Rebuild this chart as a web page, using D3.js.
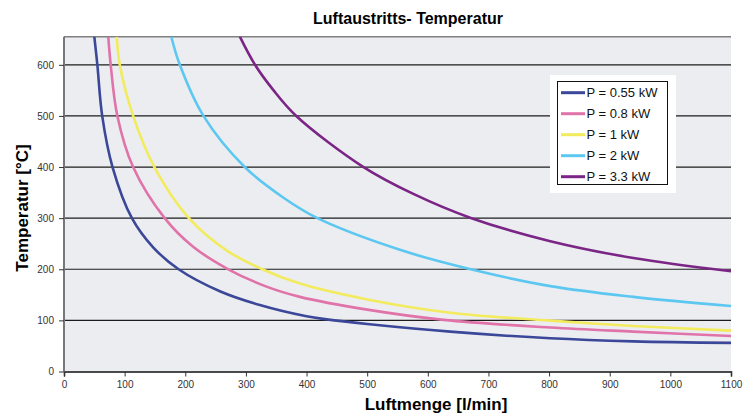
<!DOCTYPE html>
<html>
<head>
<meta charset="utf-8">
<script src="https://cdn.jsdelivr.net/npm/d3@7"></script>
<style>
  body { margin: 0; background: #fff; }
  text { font-family: "Liberation Sans", Arial, sans-serif; }
</style>
</head>
<body>
<div id="chart"></div>
<script>
// values: [Luftmenge l/min, Temperatur °C]
const p055 = [[50,655],[55,600],[63,500],[80,400],[112,300],[147,243],[189,200],[257,157],[323,130],[400,108],[433,102],[500,93],[637,78],[802,65],[939,59],[1100,56]];
const p08  = [[73,655],[77,600],[88,500],[114,400],[166,300],[213,244],[271,200],[334,166],[389,146],[500,121],[626,101],[802,86],[939,78],[1100,69.5]];
const p1   = [[87,655],[92,600],[114,500],[149,400],[206,300],[268,237],[327,200],[389,172],[500,141],[637,115],[802,99.5],[939,89],[1100,80]];
const p2   = [[177,655],[191,600],[230,500],[298,400],[362,340],[418,300],[554,238],[664,202],[802,167],[939,146],[1100,128]];
const p33  = [[290,655],[315,600],[345,551],[383,500],[494,400],[577,347],[672,300],[802,255],[939,222],[1100,196]];

const seriesNames = ["P = 0.55 kW", "P = 0.8 kW", "P = 1 kW", "P = 2 kW", "P = 3.3 kW"];
const seriesData = [p055, p08, p1, p2, p33];
const seriesColors = ["#3b4799", "#e073a9", "#f3eb5e", "#5cc8f1", "#7b2686"];

const xTicks = [0,100,200,300,400,500,600,700,800,900,1000,1100];
const yTicks = [0,100,200,300,400,500,600];

const W = 753, H = 416;
const svg = d3.select("#chart").append("svg")
    .attr("width", W)
    .attr("height", H);

const x = d3.scaleLinear().domain([0, 1100]).range([64, 731]);
const y = d3.scaleLinear().domain([0, 655]).range([371.5, 36.7]);

// plot background
svg.append("rect")
    .attr("x", x(0)).attr("y", y(655))
    .attr("width", x(1100) - x(0)).attr("height", y(0) - y(655))
    .attr("fill", "#ecedf0");

// grid lines
svg.append("g")
    .selectAll("line")
    .data(yTicks.filter(d => d > 0))
    .enter().append("line")
    .attr("x1", x(0)).attr("x2", x(1100))
    .attr("y1", d => y(d)).attr("y2", d => y(d))
    .attr("stroke", "#1c1c1c")
    .attr("stroke-width", 1.2);

// top border
svg.append("line")
    .attr("x1", x(0)).attr("x2", x(1100))
    .attr("y1", y(655)).attr("y2", y(655))
    .attr("stroke", "#808080").attr("stroke-width", 1.5);

// X axis
const xAxis = svg.append("g")
    .attr("transform", "translate(0," + y(0) + ")")
    .call(d3.axisBottom(x).tickValues(xTicks).tickSize(5).tickPadding(4).tickFormat(d3.format("d")));
xAxis.select(".domain").attr("stroke", "#111").attr("stroke-width", 1.5);
xAxis.selectAll(".tick line").attr("stroke", "#333");
xAxis.selectAll("text").attr("font-size", 10).attr("fill", "#333")
    .attr("font-family", "'Liberation Sans', Arial, sans-serif");

// Y axis
const yAxis = svg.append("g")
    .attr("transform", "translate(" + x(0) + ",0)")
    .call(d3.axisLeft(y).tickValues(yTicks).tickSize(5).tickPadding(5).tickFormat(d3.format("d")));
yAxis.select(".domain").attr("stroke", "#777").attr("stroke-width", 2)
    .attr("d", "M0," + y(0) + "V" + y(655));
yAxis.selectAll(".tick line").attr("stroke", "#333");
yAxis.selectAll("text").attr("font-size", 10).attr("fill", "#333")
    .attr("font-family", "'Liberation Sans', Arial, sans-serif");

// curves
svg.append("clipPath").attr("id", "plotclip")
    .append("rect")
    .attr("x", x(0)).attr("y", y(655))
    .attr("width", x(1100) - x(0)).attr("height", y(0) - y(655));

const line = d3.line()
    .x(d => x(d[0]))
    .y(d => y(d[1]))
    .curve(d3.curveCatmullRom.alpha(0.5));

svg.append("g").attr("clip-path", "url(#plotclip)")
    .selectAll("path")
    .data(seriesData)
    .enter().append("path")
    .attr("d", line)
    .attr("fill", "none")
    .attr("stroke", (d, i) => seriesColors[i])
    .attr("stroke-width", 2.6);

// titles
svg.append("text")
    .attr("x", 408).attr("y", 24)
    .attr("text-anchor", "middle")
    .attr("font-size", 16).attr("font-weight", "bold")
    .text("Luftaustritts- Temperatur");

svg.append("text")
    .attr("x", 436).attr("y", 410)
    .attr("text-anchor", "middle")
    .attr("font-size", 17).attr("font-weight", "bold")
    .text("Luftmenge [l/min]");

svg.append("text")
    .attr("transform", "translate(28,208) rotate(-90)")
    .attr("text-anchor", "middle")
    .attr("font-size", 17).attr("font-weight", "bold")
    .text("Temperatur [°C]");

// legend
const legend = svg.append("g");
legend.append("rect")
    .attr("x", 550).attr("y", 75).attr("width", 126).attr("height", 118)
    .attr("fill", "#fff");
legend.append("rect")
    .attr("x", 557.5).attr("y", 81.5).attr("width", 110).attr("height", 103)
    .attr("fill", "none").attr("stroke", "#111").attr("stroke-width", 1);

const rows = legend.selectAll(".row")
    .data(seriesNames)
    .enter().append("g")
    .attr("transform", (d, i) => "translate(0," + (92.7 + i * 21) + ")");
rows.append("line")
    .attr("x1", 561).attr("x2", 585)
    .attr("stroke", (d, i) => seriesColors[i])
    .attr("stroke-width", 3);
rows.append("text")
    .attr("x", 586.5).attr("y", 0)
    .attr("dy", "0.36em")
    .attr("font-size", 13)
    .attr("fill", "#111")
    .text(d => d);
</script>
</body>
</html>
